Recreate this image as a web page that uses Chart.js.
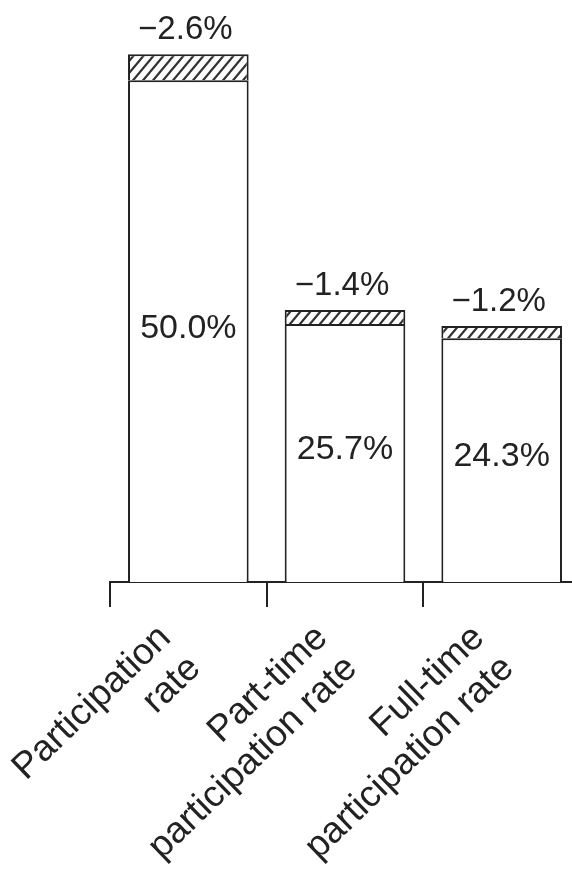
<!DOCTYPE html>
<html>
<head>
<meta charset="utf-8">
<script src="https://cdn.jsdelivr.net/npm/chart.js@4.4.1/dist/chart.umd.min.js"></script>
<style>
  html, body { margin: 0; padding: 0; background: #fff; }
  #wrap { width: 572px; height: 878px; overflow: hidden; position: relative; }
  canvas { display: block; }
</style>
</head>
<body>
<div id="wrap"><canvas id="c" width="580" height="878"></canvas></div>
<script>
// Categories (multi-line axis labels)
const categories = [
  ["Participation", "rate"],
  ["Part-time", "participation rate"],
  ["Full-time", "participation rate"]
];
// Current rates, percent
const rates = [50.0, 25.7, 24.3];
// Change in each rate, percentage points
const changes = [-2.6, -1.4, -1.2];

const INK = '#222';
const FONT = '"Liberation Sans", Arial, Helvetica, sans-serif';

// Diagonal hatch fill for the change segments
function hatchPattern() {
  const w = 10, h = 12;
  const c = document.createElement('canvas');
  c.width = w; c.height = h;
  const g = c.getContext('2d');
  g.fillStyle = '#fff';
  g.fillRect(0, 0, w, h);
  g.strokeStyle = '#333';
  g.lineWidth = 2.2;
  g.beginPath();
  for (const k of [0, 1, 2]) {
    g.moveTo(-w, h * (k + 1));
    g.lineTo(2 * w, h * (k - 2));
  }
  g.stroke();
  return g.createPattern(c, 'repeat');
}

// Value labels: rate inside the bar, change above it
const barLabels = {
  id: 'barLabels',
  afterDatasetsDraw(chart) {
    const ctx = chart.ctx;
    const baseMeta = chart.getDatasetMeta(0);
    const topMeta = chart.getDatasetMeta(1);
    ctx.save();
    ctx.fillStyle = INK;
    ctx.textAlign = 'center';
    baseMeta.data.forEach((bar, i) => {
      ctx.font = '34px ' + FONT;
      ctx.textBaseline = 'middle';
      ctx.fillText(rates[i].toFixed(1) + '%', bar.x, (bar.y + bar.base) / 2 - 3);
      const t = topMeta.data[i];
      ctx.font = '33px ' + FONT;
      ctx.textBaseline = 'alphabetic';
      ctx.fillText('\u2212' + Math.abs(changes[i]).toFixed(1) + '%', t.x - 3, t.y - 15);
    });
    ctx.restore();
  }
};

const segBorder = { top: 2, left: 2, right: 2, bottom: 0 };

new Chart(document.getElementById('c'), {
  type: 'bar',
  data: {
    labels: categories,
    datasets: [
      {
        data: rates,
        backgroundColor: '#fff',
        borderColor: INK,
        borderWidth: segBorder,
        borderSkipped: false
      },
      {
        data: changes.map(v => Math.abs(v)),
        backgroundColor: hatchPattern(),
        borderColor: INK,
        borderWidth: segBorder,
        borderSkipped: false
      }
    ]
  },
  options: {
    responsive: false,
    animation: false,
    devicePixelRatio: 1,
    layout: { padding: { left: 110, right: 0, top: 0, bottom: 0 } },
    plugins: { legend: { display: false }, tooltip: { enabled: false } },
    datasets: { bar: { categoryPercentage: 1, barPercentage: 0.77 } },
    scales: {
      x: {
        stacked: true,
        offset: true,
        grid: {
          display: true, offset: true, drawOnChartArea: false, drawTicks: true,
          tickLength: 25, lineWidth: 2,
          // tick marks between categories only; no closing mark at the far end
          color: c => (c.type === 'tick' ? INK : 'rgba(0,0,0,0)')
        },
        border: { display: true, color: INK, width: 2 },
        ticks: {
          font: { family: FONT, size: 37, lineHeight: 1.15 },
          color: INK,
          minRotation: 44, maxRotation: 44,
          autoSkip: false,
          padding: 10,
          labelOffset: -23
        },
        afterFit(scale) { scale.height = 296; }
      },
      y: { stacked: true, display: false, min: 0, max: 58 }
    }
  },
  plugins: [barLabels]
});
</script>
</body>
</html>
